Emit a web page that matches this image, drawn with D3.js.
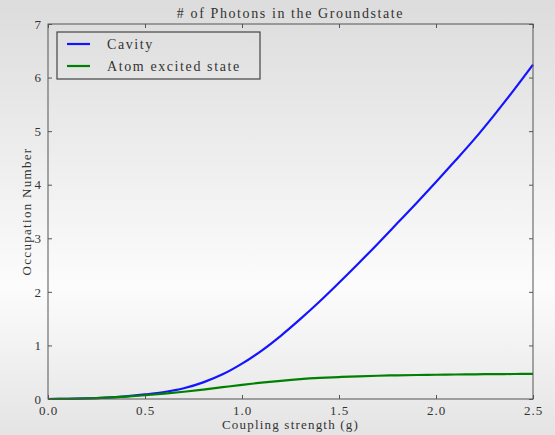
<!doctype html>
<html>
  <head>
    <meta charset='utf-8'>
    <script src="https://cdn.jsdelivr.net/npm/d3@7"></script>
    <style>
      body { margin: 0; }
      text { font-family: "Liberation Serif", serif; fill: #333; }
    </style>
  </head>
  <body>
  <svg width="555" height="435"></svg>
  <script>
    // coupling strength g
    const gValues = [0.0, 0.1, 0.2, 0.3, 0.4, 0.5, 0.6, 0.7, 0.8, 0.9, 1.0, 1.1, 1.2, 1.3,
                     1.4, 1.5, 1.6, 1.7, 1.8, 1.9, 2.0, 2.1, 2.2, 2.3, 2.4, 2.5];
    const cavity = [0.0, 0.002, 0.01, 0.025, 0.05, 0.085, 0.13, 0.2, 0.31, 0.46, 0.66, 0.9, 1.18, 1.49,
                    1.82, 2.17, 2.53, 2.9, 3.28, 3.66, 4.05, 4.45, 4.86, 5.3, 5.76, 6.24];
    const atomExcited = [0.0, 0.002, 0.01, 0.025, 0.045, 0.07, 0.1, 0.135, 0.175, 0.22, 0.265, 0.305, 0.34, 0.37,
                         0.393, 0.41, 0.424, 0.434, 0.442, 0.448, 0.453, 0.457, 0.461, 0.464, 0.467, 0.47];
    const seriesNames = ["Cavity", "Atom excited state"];
    const seriesColors = ["#1414ff", "#008000"];
    const xTicks = [0.0, 0.5, 1.0, 1.5, 2.0, 2.5];
    const yTicks = [0, 1, 2, 3, 4, 5, 6, 7];

    const svg = d3.select("svg");
    const W = 555, H = 435;
    const m = {left: 48, right: 22, top: 24, bottom: 36};

    // page background
    const grad = svg.append("defs").append("linearGradient")
      .attr("id", "bg").attr("x1", 0).attr("y1", 0).attr("x2", 0).attr("y2", 1);
    grad.append("stop").attr("offset", "0%").attr("stop-color", "#dcdcdc");
    grad.append("stop").attr("offset", "66%").attr("stop-color", "#fcfcfc");
    grad.append("stop").attr("offset", "100%").attr("stop-color", "#e4e4e4");
    svg.append("rect").attr("width", W).attr("height", H).attr("fill", "url(#bg)");

    const x = d3.scaleLinear().domain([0, 2.5]).range([m.left, W - m.right]);
    const y = d3.scaleLinear().domain([0, 7]).range([H - m.bottom, m.top]);

    // lines
    const series = [cavity, atomExcited];
    const line = d3.line()
      .x((d, i) => x(gValues[i]))
      .y(d => y(d))
      .curve(d3.curveCatmullRom.alpha(0.5));

    svg.append("g").selectAll("path")
      .data(series)
      .enter()
        .append("path")
          .attr("d", line)
          .attr("fill", "none")
          .attr("stroke", (_, i) => seriesColors[i])
          .attr("stroke-width", 2.2);

    // axes (ticks inside on all four sides)
    const tickStyle = (g) => {
      g.select(".domain").remove();
      g.selectAll("line").attr("stroke", "#555");
      g.selectAll("text").attr("fill", "#333").style("font-size", "13px")
        .style("letter-spacing", "1px")
        .style("font-family", "'Liberation Serif', serif");
    };
    svg.append("g")
      .attr("transform", `translate(0,${y(0)})`)
      .call(d3.axisBottom(x).tickValues(xTicks).tickFormat(d3.format(".1f")).tickSizeInner(-4).tickPadding(7))
      .call(tickStyle);
    svg.append("g")
      .attr("transform", `translate(0,${y(7)})`)
      .call(d3.axisTop(x).tickValues(xTicks).tickSizeInner(-4).tickFormat(""))
      .call(tickStyle);
    svg.append("g")
      .attr("transform", `translate(${x(0)},0)`)
      .call(d3.axisLeft(y).tickValues(yTicks).tickFormat(d3.format("d")).tickSizeInner(-4).tickPadding(6))
      .call(tickStyle);
    svg.append("g")
      .attr("transform", `translate(${x(2.5)},0)`)
      .call(d3.axisRight(y).tickValues(yTicks).tickSizeInner(-4).tickFormat(""))
      .call(tickStyle);

    svg.append("rect")
      .attr("x", x(0)).attr("y", y(7))
      .attr("width", x(2.5) - x(0)).attr("height", y(0) - y(7))
      .attr("fill", "none").attr("stroke", "#555").attr("stroke-width", 1);

    // title and labels
    svg.append("text")
      .attr("x", (x(0) + x(2.5)) / 2).attr("y", 18)
      .attr("text-anchor", "middle")
      .style("font-size", "14px").style("letter-spacing", "1.6px")
      .text("# of Photons in the Groundstate");
    svg.append("text")
      .attr("x", (x(0) + x(2.5)) / 2).attr("y", 429)
      .attr("text-anchor", "middle")
      .style("font-size", "13px").style("letter-spacing", "1.2px")
      .text("Coupling strength (g)");
    svg.append("text")
      .attr("transform", `translate(31,${(y(0) + y(7)) / 2}) rotate(-90)`)
      .attr("text-anchor", "middle")
      .style("font-size", "13px").style("letter-spacing", "1.3px")
      .text("Occupation Number");

    // legend
    const legend = svg.append("g").attr("transform", "translate(57,32)");
    legend.append("rect")
      .attr("width", 203).attr("height", 47)
      .attr("fill", "none").attr("stroke", "#444").attr("stroke-width", 1.2);
    const items = legend.selectAll(".item")
      .data(seriesNames)
      .enter()
        .append("g")
          .attr("class", "item")
          .attr("transform", (_, i) => `translate(0,${12 + i * 22})`);
    items.append("line")
      .attr("x1", 10).attr("x2", 33)
      .attr("stroke", (_, i) => seriesColors[i]).attr("stroke-width", 2.2);
    items.append("text")
      .attr("x", 50).attr("y", 5)
      .style("font-size", "14px").style("letter-spacing", "1.6px")
      .text(d => d);
  </script>
  </body>
</html>
